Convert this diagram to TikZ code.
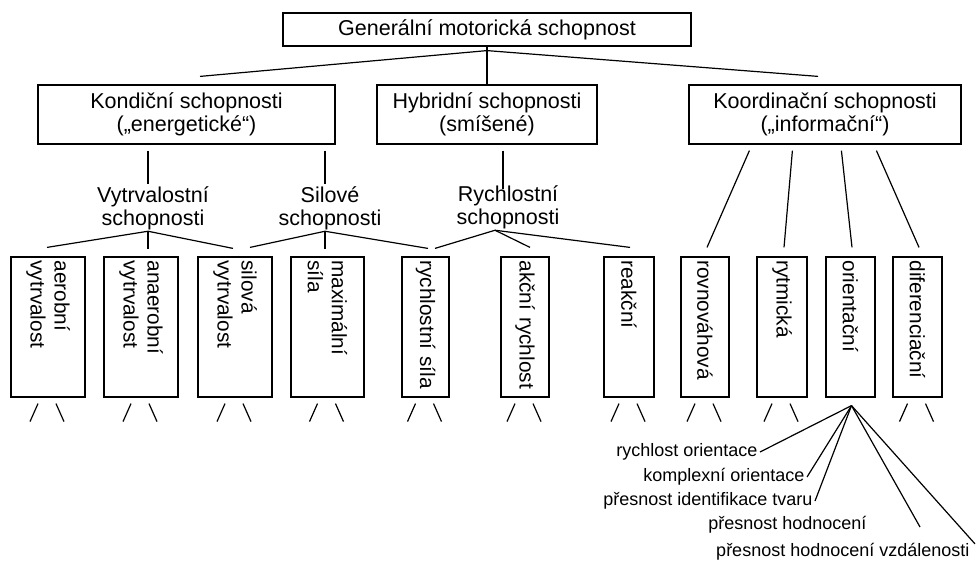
\documentclass[tikz,border=0pt]{standalone}
\usepackage{fontspec}
\setmainfont{Liberation Sans}
\usetikzlibrary{positioning,calc}

\begin{document}
\begin{tikzpicture}[
  x=0.5pt, y=-0.5pt,
  line width=0.6pt,
  font=\fontsize{10.75}{11.5}\selectfont,
  box/.style={draw,inner sep=0pt,align=center,minimum height=29.5pt},
  vbox/.style={draw,rotate=-90,minimum width=70pt,text width=66.5pt,inner xsep=1.75pt,inner ysep=0pt,
    align=left,font=\fontsize{10.4}{12}\selectfont},
  grp/.style={align=center,inner sep=1pt},
  sub/.style={anchor=east,inner sep=1pt,font=\fontsize{9}{11}\selectfont}
]
\useasboundingbox (0,0) rectangle (977,561);

% --- Boxes (top and second level) ---
\node[box,minimum width=204pt,minimum height=16.5pt] (gen) at (487,29.5) {Generální motorická schopnost};
\node[box,minimum width=148.5pt] (kond)  at (186.5,114.5) {Kondiční schopnosti\\(„energetické“)};
\node[box,minimum width=110pt]   (hyb)   at (487,114.5)   {Hybridní schopnosti\\(smíšené)};
\node[box,minimum width=136pt]   (koord) at (825,114.5)   {Koordinační schopnosti\\(„informační“)};

% --- Group labels ---
\node[grp] (vytr) at (153,208) {Vytrvalostní\\schopnosti};
\node[grp] (sil)  at (330,208) {Silové\\schopnosti};
\node[grp] (rych) at (508,207) {Rychlostní\\schopnosti};

\coordinate (vytrj) at ($(vytr.south)+(-5,-1)$);
\coordinate (silj)  at ($(sil.south)+(-5,-1)$);
\coordinate (rychj) at ($(rych.south)+(-13,-1)$);

% --- Vertical boxes ---
\node[vbox,minimum height=37pt]   (aer)    at (48,327)    {aerobní\\vytrvalost};
\node[vbox,minimum height=37pt]   (anaer)  at (141,327)   {anaerobní\\vytrvalost};
\node[vbox,minimum height=37pt]   (silvyt) at (235,327)   {silová\\vytrvalost};
\node[vbox,minimum height=36.5pt] (maxs)   at (327.5,327) {maximální\\síla};
\node[vbox,minimum height=23.5pt] (rychs)  at (425.5,327) {rychlostní síla};
\node[vbox,minimum height=24pt]   (akcr)   at (525,327)   {akční rychlost};
\node[vbox,minimum height=25pt]   (reak)   at (629,327)   {reakční};
\node[vbox,minimum height=24pt]   (rovn)   at (705,327)   {rovnováhová};
\node[vbox,minimum height=25pt]   (rytm)   at (782,327)   {rytmická};
\node[vbox,minimum height=24.5pt] (orient) at (850.5,327) {orientační};
\node[vbox,minimum height=24.5pt] (difer)  at (917.5,327) {diferenciační};

% --- Sub-labels under orientační ---
\node[sub] (ro)  at (760,452) {rychlost orientace};
\node[sub] (ko)  at (807,477) {komplexní orientace};
\node[sub] (pit) at (815,501) {přesnost identifikace tvaru};
\node[sub] (ph)  at (869,525) {přesnost hodnocení};
\node[sub] (phv) at (972,552) {přesnost hodnocení vzdálenosti};

% --- Top level links ---
\draw (gen.south) -- (hyb.north);
\draw ($(gen.south)+(0,4)$) -- ($(kond.north)+(13.5,-8)$);
\draw ($(gen.south)+(0,4)$) -- ($(koord.north)+(-7,-8)$);

% --- Links to group labels ---
\draw ($(kond.south)+(-38.5,6)$) -- ($(vytr.north)+(-5,0)$);
\draw ($(kond.south)+(138.5,6)$) -- ($(sil.north)+(-5,0)$);
\draw ($(hyb.south)+(16,6)$)     -- ($(rych.north)+(-5,6)$);

\draw (vytrj) -- ($(aer.west)+(-1,-9)$);
\draw (vytrj) -- ($(anaer.west)+(7,-7)$);
\draw (vytrj) -- ($(silvyt.west)+(-2,-8)$);

\draw (silj) -- ($(silvyt.west)+(15,-9)$);
\draw (silj) -- ($(maxs.west)+(-2.5,-7)$);
\draw (silj) -- ($(rychs.west)+(2.5,-8)$);

\draw (rychj) -- ($(rychs.west)+(9.5,-8)$);
\draw (rychj) -- ($(akcr.west)+(5,-9)$);
\draw (rychj) -- ($(reak.west)+(1,-9)$);

\draw ($(koord.south west)+(61,6)$)  -- ($(rovn.west)+(2,-9)$);
\draw ($(koord.south west)+(104,6)$) -- ($(rytm.west)+(2,-9)$);
\draw ($(koord.south west)+(153,6)$) -- ($(orient.west)+(1.5,-9)$);
\draw ($(koord.south west)+(188,6)$) -- ($(difer.west)+(1.5,-9)$);

% --- Open ends below boxes ---
\foreach \b in {aer,anaer,silvyt,maxs,rychs,akcr,reak,rovn,rytm,difer}{
  \draw ($(\b.east)+(-10,6)$) -- ($(\b.east)+(-18,24)$);
  \draw ($(\b.east)+(8,6)$) -- ($(\b.east)+(16,24)$);
}

% --- Fan from orientační ---
\coordinate (apex)  at ($(orient.east)+(1,8)$);
\coordinate (phend) at (920,527);
\draw (apex) -- (ro.east);
\draw (apex) -- (ko.east);
\draw (apex) -- (pit.east);
\draw (apex) -- (phend);
\draw (apex) -- ($(phv.north east)+(3,3)$);
\end{tikzpicture}
\end{document}
